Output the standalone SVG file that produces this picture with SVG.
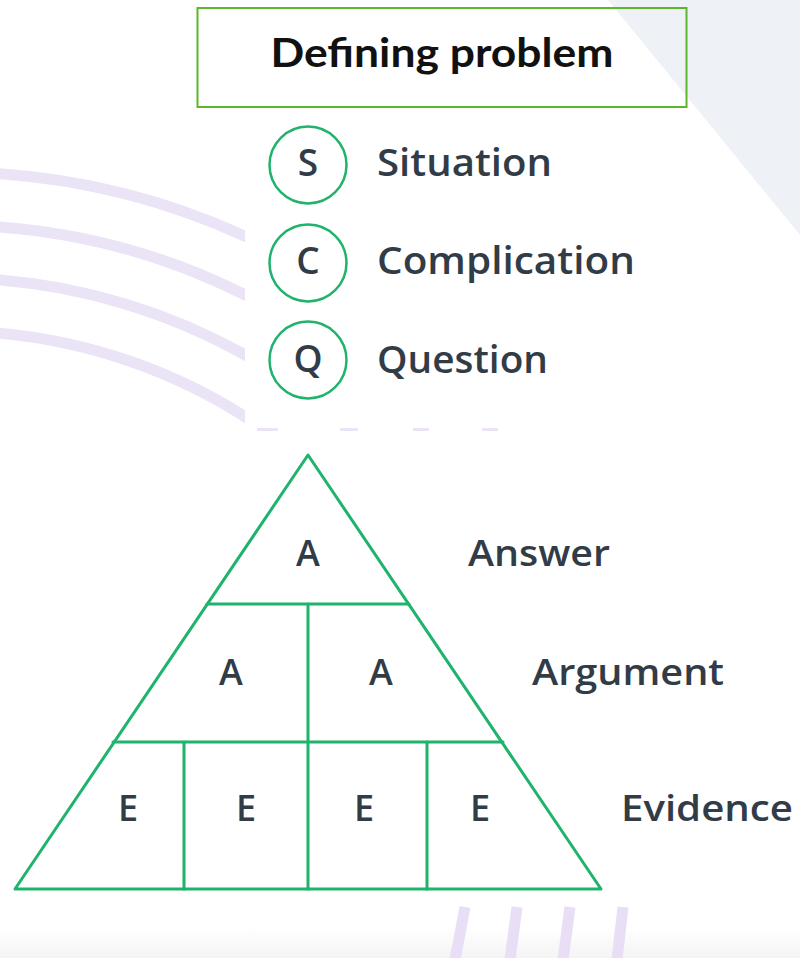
<svg xmlns="http://www.w3.org/2000/svg" width="800" height="958" viewBox="0 0 800 958">
  <style>
    .lav { fill: none; stroke: #ebe3f6; stroke-width: 11; }
    .ring { fill: #ffffff; stroke: #1fb36c; stroke-width: 2.5; }
    .grid { fill: none; stroke: #1fb36c; stroke-width: 3; stroke-linejoin: round; stroke-linecap: round; }
    .lbl { font-family: "Open Sans", "Liberation Sans", sans-serif; font-weight: 600; fill: #313c47; }
    .ttl { font-family: Lato, "Liberation Sans", sans-serif; font-weight: 700; fill: #111111; }
  </style>
  <defs>
    <clipPath id="arcClip">
      <rect x="0" y="0" width="245" height="424"/>
    </clipPath>
    <linearGradient id="floor" x1="0" y1="0" x2="0" y2="1">
      <stop offset="0" stop-color="#ffffff"/>
      <stop offset="1" stop-color="#f4f4f5"/>
    </linearGradient>
  </defs>

  <!-- background -->
  <rect x="0" y="0" width="800" height="958" fill="#ffffff"/>
  <polygon points="608,0 800,0 800,235" fill="#eef1f6"/>
  <rect x="0" y="928" width="800" height="30" fill="url(#floor)"/>

  <!-- decorative arcs, left -->
  <g id="deco-arcs" clip-path="url(#arcClip)">
    <path class="lav" d="M -20 172.6 A 710 710 0 0 1 260 243.3"/>
    <path class="lav" d="M -20 225.7 A 657 657 0 0 1 260 302.7"/>
    <path class="lav" d="M -20 278.7 A 604 604 0 0 1 260 363.6"/>
    <path class="lav" d="M -20 331.8 A 551 551 0 0 1 260 426.5"/>
  </g>
  <g id="deco-dashes" fill="#ebe3f6">
    <rect x="257" y="428" width="21" height="3"/>
    <rect x="340" y="428" width="18" height="3"/>
    <rect x="413" y="428" width="16" height="3"/>
    <rect x="482" y="428" width="16" height="3"/>
  </g>
  <!-- decorative stripes, bottom -->
  <g id="deco-stripes" stroke="#e8def6" stroke-width="11" fill="none">
    <line x1="465" y1="907" x2="455" y2="960"/>
    <line x1="517" y1="907" x2="510" y2="960"/>
    <line x1="570" y1="907" x2="563" y2="960"/>
    <line x1="623" y1="907" x2="617" y2="960"/>
  </g>

  <!-- title -->
  <g id="title">
    <rect x="197.5" y="8" width="489" height="99" fill="none" stroke="#5cb82a" stroke-width="2"/>
    <text class="ttl" x="442" y="67" font-size="40" text-anchor="middle" textLength="343" lengthAdjust="spacingAndGlyphs">Defining problem</text>
  </g>

  <!-- S / C / Q -->
  <g id="situation">
    <circle class="ring" cx="308" cy="165" r="38.5"/>
    <text class="lbl" x="308" y="176" font-size="37" text-anchor="middle">S</text>
    <text class="lbl" x="377" y="176" font-size="37" textLength="175" lengthAdjust="spacingAndGlyphs">Situation</text>
  </g>
  <g id="complication">
    <circle class="ring" cx="308" cy="263" r="38.5"/>
    <text class="lbl" x="308" y="274" font-size="37" text-anchor="middle">C</text>
    <text class="lbl" x="377" y="274" font-size="37" textLength="258" lengthAdjust="spacingAndGlyphs">Complication</text>
  </g>
  <g id="question">
    <circle class="ring" cx="308" cy="360" r="38.5"/>
    <text class="lbl" x="308" y="372" font-size="37" text-anchor="middle">Q</text>
    <text class="lbl" x="377" y="373" font-size="37" textLength="171" lengthAdjust="spacingAndGlyphs">Question</text>
  </g>

  <!-- pyramid -->
  <g id="pyramid" class="grid">
    <polygon points="308,455 601,889 15,889"/>
    <line x1="207" y1="604" x2="409" y2="604"/>
    <line x1="113" y1="742" x2="503" y2="742"/>
    <line x1="308" y1="604" x2="308" y2="889"/>
    <line x1="184" y1="742" x2="184" y2="889"/>
    <line x1="427" y1="742" x2="427" y2="889"/>
  </g>
  <g id="answer">
    <text class="lbl" x="308" y="566" font-size="36" text-anchor="middle">A</text>
    <text class="lbl" x="468" y="566" font-size="36" textLength="142" lengthAdjust="spacingAndGlyphs">Answer</text>
  </g>
  <g id="argument">
    <text class="lbl" x="231" y="685" font-size="36" text-anchor="middle">A</text>
    <text class="lbl" x="381" y="685" font-size="36" text-anchor="middle">A</text>
    <text class="lbl" x="532" y="685" font-size="36" textLength="192" lengthAdjust="spacingAndGlyphs">Argument</text>
  </g>
  <g id="evidence">
    <text class="lbl" x="128" y="821" font-size="36" text-anchor="middle">E</text>
    <text class="lbl" x="246" y="821" font-size="36" text-anchor="middle">E</text>
    <text class="lbl" x="364" y="821" font-size="36" text-anchor="middle">E</text>
    <text class="lbl" x="480" y="821" font-size="36" text-anchor="middle">E</text>
    <text class="lbl" x="621" y="821" font-size="36" textLength="172" lengthAdjust="spacingAndGlyphs">Evidence</text>
  </g>
</svg>
